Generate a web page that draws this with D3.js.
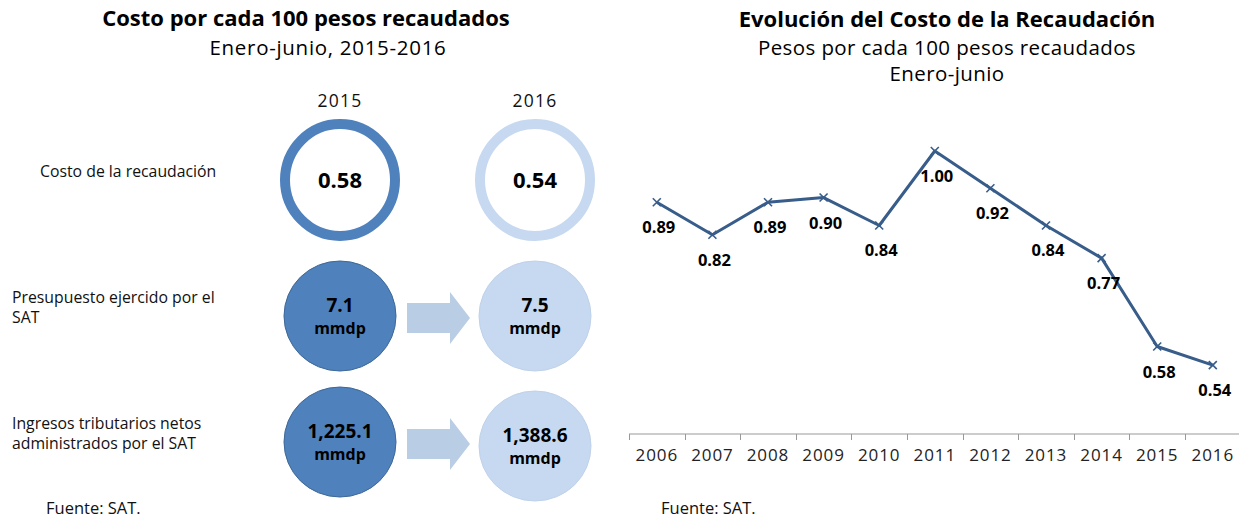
<!DOCTYPE html>
<html>
<head>
<meta charset="utf-8">
<script src="https://d3js.org/d3.v7.min.js"></script>
<style>
  body { margin: 0; padding: 0; background: #fff; }
  svg { display: block; font-family: "Open Sans", sans-serif; }
</style>
</head>
<body>
<script>
// ---- data ----
var years = ["2006", "2007", "2008", "2009", "2010", "2011", "2012", "2013", "2014", "2015", "2016"];
var costo = [0.89, 0.82, 0.89, 0.90, 0.84, 1.00, 0.92, 0.84, 0.77, 0.58, 0.54];

var compYears = ["2015", "2016"];
var rowLabels = [
  ["Costo de la recaudación"],
  ["Presupuesto ejercido por el", "SAT"],
  ["Ingresos tributarios netos", "administrados por el SAT"]
];
var values2015 = ["0.58", "7.1", "1,225.1"];
var values2016 = ["0.54", "7.5", "1,388.6"];
var units = ["", "mmdp", "mmdp"];

var width = 1239, height = 518;
var dark = "#4f81bd", light = "#c6d9f1", arrowCol = "#b9cde5", lineCol = "#385d8a";

var svg = d3.select("body").append("svg")
  .attr("width", width)
  .attr("height", height);

// ---- left panel ----
var left = svg.append("g");

left.append("text")
  .attr("x", 306).attr("y", 26)
  .attr("text-anchor", "middle")
  .style("font-weight", "bold").style("font-size", "22px")
  .text("Costo por cada 100 pesos recaudados");
left.append("text")
  .attr("x", 328).attr("y", 55)
  .attr("text-anchor", "middle")
  .style("font-size", "20.5px").style("letter-spacing", "0.7px")
  .text("Enero-junio, 2015-2016");

var col = d3.scalePoint().domain(compYears).range([340, 535]);
var rowY = d3.scaleOrdinal().domain([0, 1, 2]).range([180, 316, 442]);

left.selectAll(".yr").data(compYears).enter().append("text")
  .attr("x", d => col(d)).attr("y", 107)
  .attr("text-anchor", "middle")
  .style("font-size", "17.5px").style("letter-spacing", "1.2px").style("fill", "#111")
  .text(d => d);

var rowLabelX = [40, 12, 12];
rowLabels.forEach(function(lines, i) {
  var t = left.append("text")
    .attr("x", rowLabelX[i])
    .attr("y", rowY(i) - (i === 0 ? 3 : 13))
    .style("font-size", "15.8px").style("fill", "#111");
  lines.forEach(function(l, k) {
    t.append("tspan").attr("x", rowLabelX[i]).attr("dy", k === 0 ? 0 : 20).text(l);
  });
});

// ring row
compYears.forEach(function(y, j) {
  left.append("ellipse")
    .attr("cx", col(y)).attr("cy", rowY(0))
    .attr("rx", 55).attr("ry", 56)
    .attr("fill", "none")
    .attr("stroke", j === 0 ? dark : light)
    .attr("stroke-width", 10);
});

// filled rows
[1, 2].forEach(function(i) {
  compYears.forEach(function(y, j) {
    left.append("ellipse")
      .attr("cx", col(y)).attr("cy", rowY(i) + (j === 1 && i === 2 ? 4 : 0))
      .attr("rx", 56).attr("ry", 55)
      .attr("fill", j === 0 ? dark : light)
      .attr("stroke", j === 0 ? "#3d6897" : "#bfd2ea")
      .attr("stroke-width", 1);
  });
  // arrow
  var x0 = col("2015") + 67, x1 = col("2016") - 65, cy = rowY(i) + 2;
  var hx = x1 - 20;
  left.append("path")
    .attr("d", "M" + x0 + "," + (cy - 15) + "L" + hx + "," + (cy - 15) + "L" + hx + "," + (cy - 26) +
      "L" + x1 + "," + cy + "L" + hx + "," + (cy + 26) + "L" + hx + "," + (cy + 15) + "L" + x0 + "," + (cy + 15) + "Z")
    .attr("fill", arrowCol);
});

// values inside circles
[values2015, values2016].forEach(function(vals, j) {
  vals.forEach(function(v, i) {
    var cx = col(compYears[j]);
    var cy = rowY(i) + (j === 1 && i === 2 ? 4 : 0);
    if (units[i] === "") {
      left.append("text")
        .attr("x", cx).attr("y", cy + 8)
        .attr("text-anchor", "middle")
        .style("font-weight", "bold").style("font-size", "22px")
        .text(v);
    } else {
      left.append("text")
        .attr("x", cx).attr("y", cy - 4)
        .attr("text-anchor", "middle")
        .style("font-weight", "bold").style("font-size", "19px")
        .text(v);
      left.append("text")
        .attr("x", cx).attr("y", cy + 18)
        .attr("text-anchor", "middle")
        .style("font-weight", "bold").style("font-size", "16px")
        .text(units[i]);
    }
  });
});

left.append("text")
  .attr("x", 46).attr("y", 514)
  .style("font-size", "16.5px").style("fill", "#111")
  .text("Fuente: SAT.");

// ---- right panel: line chart ----
var right = svg.append("g");

right.append("text")
  .attr("x", 947).attr("y", 27)
  .attr("text-anchor", "middle")
  .style("font-weight", "bold").style("font-size", "22px")
  .text("Evolución del Costo de la Recaudación");
right.append("text")
  .attr("x", 947).attr("y", 55)
  .attr("text-anchor", "middle")
  .style("font-size", "20.5px").style("letter-spacing", "0.4px")
  .text("Pesos por cada 100 pesos recaudados");
right.append("text")
  .attr("x", 947).attr("y", 81)
  .attr("text-anchor", "middle")
  .style("font-size", "20.5px").style("letter-spacing", "0.4px")
  .text("Enero-junio");

var x = d3.scaleBand().domain(years).range([629, 1240.6]);
var y = d3.scaleLinear().domain([0.39, 1.0]).range([435, 151]);
var axisY = 434;

// axis line + ticks at band boundaries
right.append("line")
  .attr("x1", 629).attr("x2", width)
  .attr("y1", axisY).attr("y2", axisY)
  .attr("stroke", "#999").attr("stroke-width", 1);
right.selectAll(".tick").data(years).enter().append("line")
  .attr("x1", d => Math.round(x(d)) + 0.5).attr("x2", d => Math.round(x(d)) + 0.5)
  .attr("y1", axisY).attr("y2", axisY + 6)
  .attr("stroke", "#999");
right.selectAll(".xlab").data(years).enter().append("text")
  .attr("x", d => x(d) + x.bandwidth() / 2)
  .attr("y", axisY + 27)
  .attr("text-anchor", "middle")
  .style("font-size", "17px").style("letter-spacing", "0.9px").style("fill", "#222")
  .text(d => d);

var pts = years.map((d, i) => [x(d) + x.bandwidth() / 2, y(costo[i])]);

right.append("path")
  .attr("d", d3.line()(pts))
  .attr("fill", "none")
  .attr("stroke", lineCol)
  .attr("stroke-width", 3)
  .attr("stroke-linejoin", "round");

right.selectAll(".mk").data(pts).enter().append("path")
  .attr("d", d => "M" + (d[0] - 4) + "," + (d[1] - 4) + "L" + (d[0] + 4) + "," + (d[1] + 4) +
    "M" + (d[0] - 4) + "," + (d[1] + 4) + "L" + (d[0] + 4) + "," + (d[1] - 4))
  .attr("stroke", lineCol)
  .attr("stroke-width", 1.6);

right.selectAll(".lbl").data(pts).enter().append("text")
  .attr("x", d => d[0] + 2)
  .attr("y", d => d[1] + 31)
  .attr("text-anchor", "middle")
  .style("font-weight", "bold").style("font-size", "16.5px")
  .text((d, i) => costo[i].toFixed(2));

right.append("text")
  .attr("x", 661).attr("y", 514)
  .style("font-size", "16.5px").style("fill", "#111")
  .text("Fuente: SAT.");
</script>
</body>
</html>
